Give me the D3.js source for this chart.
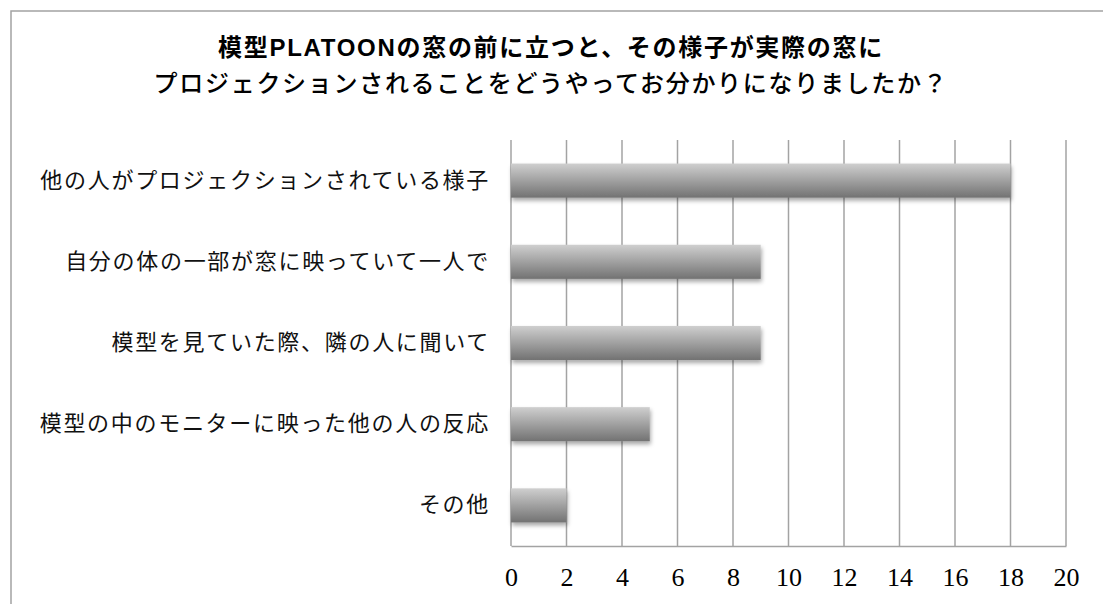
<!DOCTYPE html>
<html><head><meta charset="utf-8">
<script src="https://cdn.jsdelivr.net/npm/d3@7"></script>
<style>html,body{margin:0;padding:0;background:#fff;}svg{display:block;}</style>
</head><body>
<svg id="chart" width="1103" height="604"></svg>
<script>
const titleLines = ["模型PLATOONの窓の前に立つと、その様子が実際の窓に", "プロジェクションされることをどうやってお分かりになりましたか？"];
const categories = ["他の人がプロジェクションされている様子", "自分の体の一部が窓に映っていて一人で", "模型を見ていた際、隣の人に聞いて", "模型の中のモニターに映った他の人の反応", "その他"];
const values = [18, 9, 9, 5, 2];
const tickValues = [0, 2, 4, 6, 8, 10, 12, 14, 16, 18, 20];

const svg = d3.select("#chart");
const plotLeft = 511, plotRight = 1066, plotTop = 140, plotBottom = 546;

const defs = svg.append("defs");
const grad = defs.append("linearGradient").attr("id", "barGrad").attr("x1", 0).attr("y1", 0).attr("x2", 0).attr("y2", 1);
grad.append("stop").attr("offset", "0%").attr("stop-color", "#cfcfcf");
grad.append("stop").attr("offset", "100%").attr("stop-color", "#727272");
const filt = defs.append("filter").attr("id", "shadow").attr("x", "-10%").attr("y", "-30%").attr("width", "120%").attr("height", "170%");
filt.append("feDropShadow").attr("dx", 1).attr("dy", 3).attr("stdDeviation", 2).attr("flood-color", "#000").attr("flood-opacity", 0.35);

// frame
svg.append("rect").attr("x", 11).attr("y", 11).attr("width", 1120).attr("height", 620)
  .attr("fill", "none").attr("stroke", "#a3a3a3").attr("stroke-width", 1.5);

const x = d3.scaleLinear().domain([0, 20]).range([plotLeft, plotRight]);
const y = d3.scaleBand().domain(categories).range([plotTop, plotBottom]).paddingInner(0.58).paddingOuter(0.29);

// gridlines
svg.append("g").selectAll("line").data(tickValues).join("line")
  .attr("x1", d => x(d)).attr("x2", d => x(d)).attr("y1", plotTop).attr("y2", plotBottom)
  .attr("stroke", "#a3a3a3").attr("stroke-width", 1.5);

// bars
svg.append("g").selectAll("rect").data(values).join("rect")
  .attr("x", x(0)).attr("y", (d, i) => y(categories[i]))
  .attr("width", d => x(d) - x(0)).attr("height", y.bandwidth())
  .attr("fill", "url(#barGrad)").attr("filter", "url(#shadow)");

// axis
const xAxis = svg.append("g").attr("transform", `translate(0,${plotBottom})`)
  .call(d3.axisBottom(x).tickValues(tickValues).tickSize(0).tickPadding(22).tickFormat(d3.format("d")));
xAxis.select(".domain").attr("stroke", "#a3a3a3").attr("stroke-width", 1.5);
xAxis.selectAll("text").attr("font-family", "'Liberation Serif', 'DejaVu Serif', serif")
  .attr("font-size", 26).attr("fill", "#000");

// category labels
const yAxis = svg.append("g").attr("transform", `translate(${plotLeft},0)`)
  .call(d3.axisLeft(y).tickSize(0).tickPadding(21));
yAxis.select(".domain").remove();
yAxis.selectAll("text").attr("font-family", "'Noto Sans CJK JP', sans-serif")
  .attr("font-size", 22).attr("letter-spacing", 1.7).attr("fill", "#111");

// title
svg.append("g").selectAll("text").data(titleLines).join("text")
  .attr("x", 551).attr("y", (d, i) => 56 + i * 36)
  .attr("text-anchor", "middle")
  .attr("font-family", "'Liberation Sans', 'Noto Sans CJK JP', sans-serif")
  .attr("font-size", 24).attr("letter-spacing", 1.7)
  .attr("font-weight", (d, i) => i === 0 ? 700 : 500)
  .attr("fill", "#000").text(d => d);
</script>
</body></html>
